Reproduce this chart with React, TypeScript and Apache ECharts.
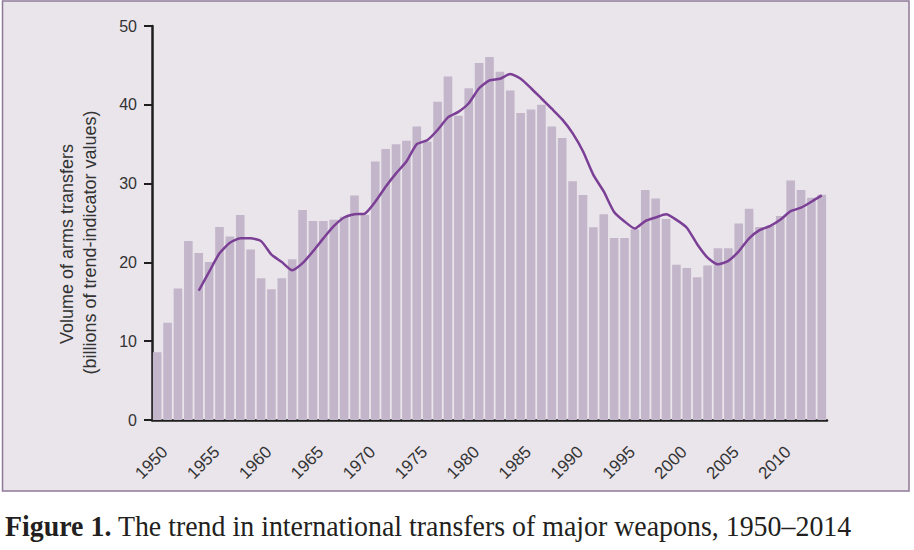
import React, { useEffect, useRef } from "react";
import * as echarts from "echarts";

const years: string[] = [];
for (let y = 1950; y <= 2014; y++) years.push(String(y));

const volumes: number[] = [
  8.6, 12.35, 16.7, 22.7, 21.2, 20.05, 24.5, 23.3, 26.0, 21.65,
  18.0, 16.6, 18.0, 20.4, 26.65, 25.25, 25.25, 25.4, 25.8, 28.5,
  26.0, 32.8, 34.4, 35.0, 35.45, 37.25, 35.3, 40.4, 43.6, 38.6,
  42.1, 45.3, 46.07, 44.2, 41.8, 38.96, 39.4, 40.0, 37.25, 35.8,
  30.3, 28.55, 24.45, 26.1, 23.1, 23.1, 24.2, 29.2, 28.1, 25.5,
  19.7, 19.3, 18.1, 19.6, 21.8, 21.8, 24.95, 26.8, 24.5, 24.65,
  25.9, 30.4, 29.2, 28.2, 28.6,
];

const trend: (number | null)[] = [
  null, null, null, null, 16.4, 18.8, 21.15, 22.5, 23.05, 23.05,
  22.7, 21.0, 20.05, 19.0, 19.9, 21.4, 23.05, 24.6, 25.7, 26.1,
  26.2, 27.7, 29.6, 31.3, 32.8, 35.0, 35.5, 36.8, 38.4, 39.1,
  40.2, 42.1, 43.1, 43.3, 43.9, 43.3, 42.1, 40.8, 39.5, 38.15,
  36.4, 34.1, 31.1, 29.0, 26.4, 25.2, 24.3, 25.25, 25.7, 26.1,
  25.4, 24.4, 22.3, 20.6, 19.75, 20.2, 21.4, 23.05, 24.1, 24.6,
  25.4, 26.5, 26.95, 27.7, 28.5,
];

const yTicks = [0, 10, 20, 30, 40, 50];
const yNameLines = ["Volume of arms transfers", "(billions of trend-indicator values)"];
const captionBold = "Figure 1.";
const captionText = " The trend in international transfers of major weapons, 1950–2014";

export default function App() {
  const ref = useRef<HTMLDivElement>(null);
  useEffect(() => {
    document.body.style.margin = "0";
    const chart = echarts.init(ref.current!, null, { renderer: "svg" });
    const axisColor = "#1e1e1e";
    const textColor = "#333333";
    chart.setOption({
      animation: false,
      backgroundColor: "#ffffff",
      graphic: [
        {
          type: "rect",
          z: -10,
          shape: { x: 2.5, y: 1, width: 906.5, height: 490 },
          style: { fill: "#e9e5eb", stroke: "#8e7a98", lineWidth: 1.5 },
        },
        {
          type: "text",
          x: 66.5,
          y: 244,
          rotation: Math.PI / 2,
          style: {
            text: yNameLines[0],
            fill: textColor,
            font: "18px 'Liberation Sans', Arial, sans-serif",
            align: "center",
            verticalAlign: "middle",
          },
        },
        {
          type: "text",
          x: 89.5,
          y: 242.5,
          rotation: Math.PI / 2,
          style: {
            text: yNameLines[1],
            fill: textColor,
            font: "18px 'Liberation Sans', Arial, sans-serif",
            align: "center",
            verticalAlign: "middle",
          },
        },
        {
          type: "text",
          x: 5,
          y: 541,
          scaleX: 0.93,
          style: {
            text: "{b|" + captionBold + "}{r|" + captionText + "}",
            fill: "#231f20",
            verticalAlign: "bottom",
            rich: {
              b: { font: "bold 30px 'Liberation Serif', 'DejaVu Serif', serif", fill: "#231f20" },
              r: { font: "30px 'Liberation Serif', 'DejaVu Serif', serif", fill: "#231f20" },
            },
          },
        },
      ],
      grid: { left: 152, right: 87, top: 26, bottom: 130, containLabel: false },
      xAxis: {
        type: "category",
        data: years,
        boundaryGap: true,
        axisLine: { lineStyle: { color: axisColor, width: 2.5 } },
        axisTick: {
          alignWithLabel: true,
          interval: 4,
          length: 7,
          lineStyle: { color: axisColor, width: 2 },
        },
        axisLabel: {
          interval: 4,
          rotate: 45,
          align: "center",
          verticalAlign: "middle",
          margin: 37,
          padding: [0, 16, 0, 0],
          color: textColor,
          fontSize: 17,
          fontFamily: "'Liberation Sans', Arial, sans-serif",
        },
        splitLine: { show: false },
      },
      yAxis: {
        type: "value",
        min: yTicks[0],
        max: yTicks[yTicks.length - 1],
        interval: 10,
        axisLine: { show: true, lineStyle: { color: axisColor, width: 2.5 } },
        axisTick: { show: true, length: 8, lineStyle: { color: axisColor, width: 2 } },
        axisLabel: {
          margin: 15,
          color: textColor,
          fontSize: 16,
          fontFamily: "'Liberation Sans', Arial, sans-serif",
        },
        splitLine: { show: false },
      },
      series: [
        {
          type: "bar",
          data: volumes,
          barCategoryGap: "17%",
          itemStyle: { color: "#c4b6ca" },
          z: 1,
        },
        {
          type: "line",
          data: trend,
          showSymbol: false,
          symbol: "none",
          smooth: 0.2,
          lineStyle: { color: "#7b3f96", width: 2.5 },
          z: 3,
        },
      ],
    });
    return () => chart.dispose();
  }, []);
  return <div ref={ref} style={{ width: 914, height: 550 }} />;
}
